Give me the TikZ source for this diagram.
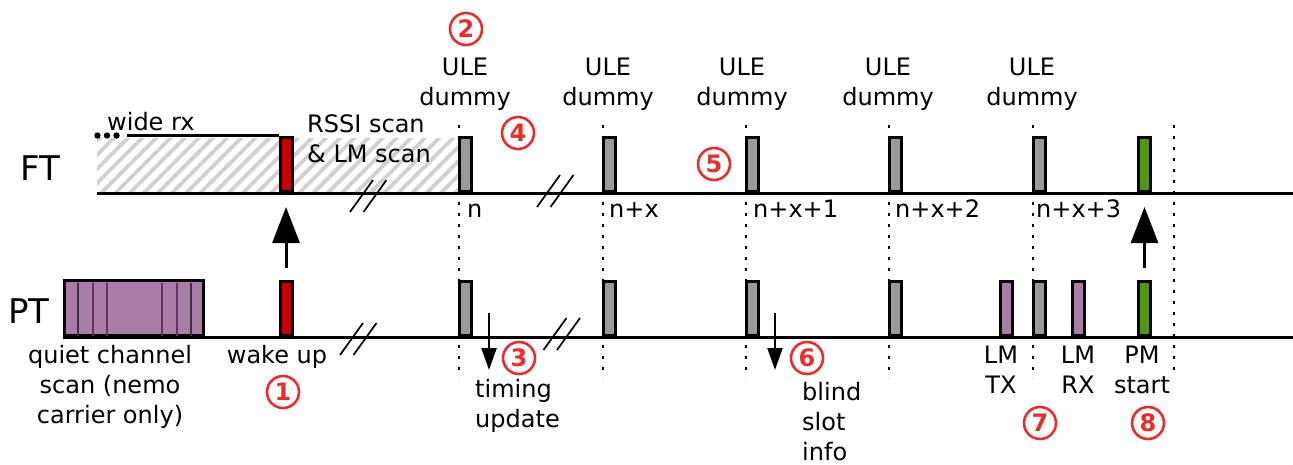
\documentclass[tikz,border=0pt]{standalone}
\usepackage{fontspec}
\setmainfont{DejaVu Sans}
\usepackage{tikz}
\usetikzlibrary{arrows.meta}
\usetikzlibrary{patterns.meta}
\definecolor{slotgrey}{RGB}{154,154,154}
\definecolor{wakered}{RGB}{196,0,0}
\definecolor{pmgreen}{RGB}{78,152,14}
\definecolor{lmpurple}{RGB}{170,124,168}
\definecolor{markred}{RGB}{234,44,44}
\definecolor{hatchgrey}{RGB}{208,208,208}
\definecolor{innerdark}{RGB}{56,52,56}
\definecolor{innerpurple}{RGB}{100,50,100}
\tikzset{
	% Slot boxes sitting on the FT and PT time lines
	slot/.style={draw,line width=3pt,inner sep=0,minimum width=12pt,minimum height=54.5pt,anchor=south},
	timeline/.style={line width=3pt},
	guide/.style={line width=2.8pt,dash pattern=on 2.8pt off 8.2pt},
	hatch/.style={pattern={Lines[angle=45,distance=10pt,line width=3.8pt]},pattern color=hatchgrey},
	brk/.style={line width=1.7pt},
	txt/.style={inner sep=0,font=\fontsize{24}{30}\selectfont},
	big txt/.style={inner sep=0,font=\fontsize{34}{34}\selectfont},
	% red circled step numbers
	step mark/.style={circle,draw=markred,text=markred,line width=2.6pt,inner sep=0,minimum size=32pt,font=\fontsize{24}{24}\selectfont\bfseries},
	up arrow/.style={line width=3pt,-{Triangle[length=36pt,width=27pt]},shorten <=12pt,shorten >=14pt},
	down arrow/.style={line width=2.4pt,-{Triangle[length=22pt,width=15pt]}}
}

\begin{document}
\begin{tikzpicture}[x=1pt,y=-1pt]
			% macro for slot boxes: [fill]{name}{position}
			\newcommand{\slotbox}[3][slotgrey]{\node(#2)[slot,fill=#1]at(#3){};}
			% macro for dotted slot boundaries
			\newcommand{\guideline}[1]{\draw[guide](#1,125)--(#1,378);}
			% macro for the // break marks
			\newcommand{\brkmark}[2]{\draw[brk](#1,#2)++(-11.5,16)--++(23,-32)++(-9.5,32)--++(23,-32);}
			% macro for circled numbers
			\newcommand{\marknum}[3]{\node(#1)[step mark]at(#2){#3};}
			
			\useasboundingbox (0,0) rectangle (1293,464);
			
			% hatched wide rx / scan area
			\fill[hatch] (97,138) rectangle (458,193);
			
			\coordinate (ftStart) at (97,193);
			\coordinate (ftEnd) at (1293,193);
			\coordinate (ptStart) at (63,337);
			\coordinate (ptEnd) at (1293,337);
			\draw[timeline] (ftStart) -- (ftEnd);
			\draw[timeline] (ptStart) -- (ptEnd);
			
			\guideline{459}
			\guideline{603}
			\guideline{746}
			\guideline{889}
			\guideline{1033}
			\guideline{1174}
			
			% FT slots
			\slotbox[wakered]{wkFT}{286,193}
			\slotbox{ftN}{465.5,193}
			\slotbox{ftNx}{609.5,193}
			\slotbox{ftNx1}{752.5,193}
			\slotbox{ftNx2}{895.5,193}
			\slotbox{ftNx3}{1039.5,193}
			\slotbox[pmgreen]{pmFT}{1144.5,193}
			
			% PT slots
			\node(qcs)[slot,fill=lmpurple,minimum width=139pt,minimum height=55pt]at(134,337){};
			\draw[line width=2pt,innerdark] (78,283) -- (78,336) (191,283) -- (191,336);
			\draw[line width=2pt,innerpurple] (93,283) -- (93,336) (107,283) -- (107,336) (162,283) -- (162,336) (177,283) -- (177,336);
			\slotbox[wakered]{wkPT}{286,337}
			\slotbox{ptN}{465.5,337}
			\slotbox{ptNx}{609.5,337}
			\slotbox{ptNx1}{752.5,337}
			\slotbox{ptNx2}{895.5,337}
			\slotbox[lmpurple]{lmTx}{1006.5,337}
			\slotbox{ptNx3}{1039.5,337}
			\slotbox[lmpurple]{lmRx}{1078.5,337}
			\slotbox[pmgreen]{pmPT}{1144.5,337}
			
			% wide rx upper border
			\coordinate (wideEnd) at ([xshift=-152pt]wkFT.north west);
			\draw[timeline] (wkFT.north west) -- (wideEnd);
			\fill ([xshift=-10pt]wideEnd) circle (3.2) ([xshift=-19.5pt]wideEnd) circle (3.2) ([xshift=-29pt]wideEnd) circle (3.2);
			
			\brkmark{361.5}{196}
			\brkmark{548.5}{191}
			\brkmark{351.5}{339}
			\brkmark{555}{334}
			
			% arrows
			\draw[up arrow] (wkPT.north) -- (wkFT.south);
			\draw[up arrow] (pmPT.north) -- (pmFT.south);
			\coordinate (tuTop) at (489,313);
			\coordinate (tuEnd) at (489,370);
			\coordinate (bsTop) at (775,313);
			\coordinate (bsEnd) at (775,370);
			\draw[down arrow] (tuTop) -- (tuEnd);
			\draw[down arrow] (bsTop) -- (bsEnd);
			
			% labels (base = baseline of the last line)
			\node(ftLbl)[big txt,anchor=base west]at(20,180){FT};
			\node(ptLbl)[big txt,anchor=base west]at(8,323){PT};
			\node(wideRx)[txt,anchor=base west]at(107,130){wide rx};
			\node(rssi)[txt,anchor=base west,align=left]at(307,162){RSSI scan\\\& LM scan};
			\node(uleN)[txt,anchor=base,align=center]at(465,105){ULE\\dummy};
			\node(uleNx)[txt,anchor=base,align=center]at(608,105){ULE\\dummy};
			\node(uleNx1)[txt,anchor=base,align=center]at(742,105){ULE\\dummy};
			\node(uleNx2)[txt,anchor=base,align=center]at(888,105){ULE\\dummy};
			\node(uleNx3)[txt,anchor=base,align=center]at(1032,105){ULE\\dummy};
			\node(idxN)[txt,anchor=base west]at(467,217){n};
			\node(idxNx)[txt,anchor=base west]at(609,217){n+x};
			\node(idxNx1)[txt,anchor=base west]at(753,217){n+x+1};
			\node(idxNx2)[txt,anchor=base west]at(895,217){n+x+2};
			\node(idxNx3)[txt,anchor=base west]at(1036,217){n+x+3};
			\node(qcsLbl)[txt,anchor=base,align=center]at(110,423){quiet channel\\scan (nemo\\carrier only)};
			\node(wakeLbl)[txt,anchor=base]at(277,363){wake up};
			\node(tuLbl)[txt,anchor=base west,align=left]at(475,427){timing\\update};
			\node(bsLbl)[txt,anchor=base west,align=left]at(802,460){blind\\slot\\info};
			\node(lmTxLbl)[txt,anchor=base,align=center]at(1001,393){LM\\TX};
			\node(lmRxLbl)[txt,anchor=base,align=center]at(1078,393){LM\\RX};
			\node(pmLbl)[txt,anchor=base,align=center]at(1142,393){PM\\start};
			
			% step numbers
			\marknum{m1}{283,392}{1}
			\marknum{m2}{466,29}{2}
			\marknum{m3}{519,358}{3}
			\marknum{m4}{518,133}{4}
			\marknum{m5}{714,164}{5}
			\marknum{m6}{807,358}{6}
			\marknum{m7}{1040,423}{7}
			\marknum{m8}{1148,423}{8}
		\end{tikzpicture}
\end{document}
